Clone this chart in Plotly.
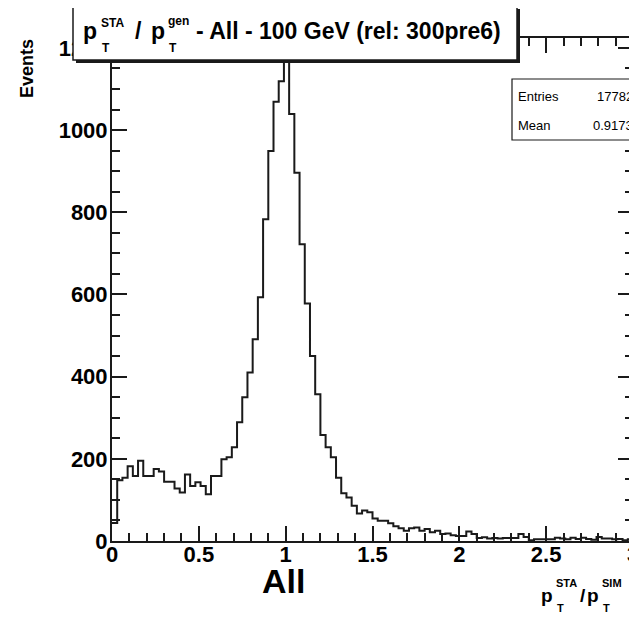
import plotly.graph_objects as go

# ---------------- data ----------------
bin_low = 0.0
bin_high = 3.0
counts = [44, 148, 154, 182, 158, 195, 158, 158, 175, 169,
          144, 144, 128, 118, 162, 134, 143, 134, 114, 158,
          158, 199, 204, 228, 289, 350, 410, 491, 593,
          783, 949, 1069, 1119, 1166, 1039, 896, 722, 578,
          450, 357, 258, 228, 204, 154, 116, 106, 86, 67,
          74, 70, 55, 49, 49, 43, 36,
          31, 25, 31, 33, 25, 29, 21, 25, 17, 18,
          14, 12, 12, 23, 17, 7, 9, 6, 7, 6,
          7, 7, 7, 17, 10, 2, 4, 4, 4, 4,
          8, 6, 4, 8, 5, 8, 5, 3, 10, 6,
          6, 4, 5, 2, 4]
x_tick_vals = [0, 0.5, 1, 1.5, 2, 2.5, 3]
x_tick_text = ["0", "0.5", "1", "1.5", "2", "2.5", "3"]
y_tick_vals = [0, 200, 400, 600, 800, 1000, 1200]
y_tick_text = ["0", "200", "400", "600", "800", "1000", "1200"]
y_max = 1224
stats_labels = ["Entries", "Mean"]
stats_values = ["17782", "0.9173"]
title_rest = "- All - 100 GeV (rel: 300pre6)"
panel_label = "All"
y_title = "Events"

# ---------------- geometry (screen pixels; page body has an 8px margin) ----------------
PAGE_OFF = 8
SW, SH = 637, 620
PL, PR, PT, PB = 112, 633, 38, 541   # plot area in screen pixels
W, H = SW - PAGE_OFF, SH - PAGE_OFF
L, T = PL - PAGE_OFF, PT - PAGE_OFF
R, B = SW - PR, SH - PB
pw, ph = PR - PL, PB - PT


def px(x):
    return (x - PL) / pw


def py(y):
    return (PB - y) / ph


n_bins = len(counts)
width = (bin_high - bin_low) / n_bins
edges = [bin_low + i * width for i in range(n_bins + 1)]
ys = counts + [counts[-1]]

INK = "#1a1a1a"
FONT = "Liberation Sans"

fig = go.Figure()
fig.add_trace(go.Scatter(x=edges, y=ys, mode="lines", line_shape="hv",
                         line=dict(color=INK, width=2), hoverinfo="skip",
                         showlegend=False))

axis_common = dict(showline=True, linecolor=INK, linewidth=2, mirror="ticks",
                   ticks="inside", tickcolor=INK, tickwidth=1.6, ticklen=15,
                   showgrid=False, zeroline=False, automargin=False,
                   ticklabeloverflow="allow",
                   tickfont=dict(family=FONT, size=22, color="black", weight="bold"))

fig.update_xaxes(range=[bin_low, bin_high], tickvals=x_tick_vals, ticktext=x_tick_text,
                 ticklabelstandoff=-7,
                 minor=dict(dtick=0.1, ticks="inside", ticklen=8, tickcolor=INK,
                            tickwidth=1.6, showgrid=False),
                 **axis_common)
fig.update_yaxes(range=[0, y_max], tickvals=y_tick_vals, ticktext=y_tick_text,
                 ticklabelstandoff=-2,
                 minor=dict(dtick=50, ticks="inside", ticklen=8, tickcolor=INK,
                            tickwidth=1.6, showgrid=False),
                 **axis_common)

shapes = []
# title box shadow + box
shapes.append(dict(type="rect", xref="paper", yref="paper",
                   x0=px(76), x1=px(520), y0=py(63), y1=py(9),
                   fillcolor=INK, line=dict(width=0), layer="above"))
shapes.append(dict(type="rect", xref="paper", yref="paper",
                   x0=px(73), x1=px(517), y0=py(60), y1=py(6),
                   fillcolor="white", line=dict(color=INK, width=1.5), layer="above"))
# stats box
shapes.append(dict(type="rect", xref="paper", yref="paper",
                   x0=px(512), x1=px(650), y0=py(140), y1=py(79),
                   fillcolor="white", line=dict(color=INK, width=1.2), layer="above"))
# neighbouring red box edge
shapes.append(dict(type="rect", xref="paper", yref="paper",
                   x0=px(635), x1=px(660), y0=py(385), y1=py(250),
                   fillcolor="rgba(0,0,0,0)", line=dict(color="#d04545", width=2),
                   layer="above"))

ann = []


def txt(s, x, y, size, xanchor="left", weight="bold", angle=0):
    ann.append(dict(text=s, xref="paper", yref="paper", x=px(x), y=py(y),
                    xanchor=xanchor, yanchor="middle", showarrow=False,
                    textangle=angle,
                    font=dict(family=FONT, size=size, color="black", weight=weight)))


# title pieces
txt("p", 81, 31, 23)
txt("STA", 99, 23, 12)
txt("T", 100, 48, 12)
txt("/", 133, 31, 23)
txt("p", 149, 31, 23)
txt("gen", 166, 21, 12)
txt("T", 167, 48, 12)
txt(title_rest, 194, 31, 23)

# stats text
for i, (lab, val) in enumerate(zip(stats_labels, stats_values)):
    yy = 96 + i * 29
    txt(lab, 516, yy, 13, weight="normal")
    txt(val, 635, yy, 13, xanchor="right", weight="normal")

# y title
txt(y_title, 27, 69, 18, xanchor="center", angle=-90)

# panel label
txt(panel_label, 283, 581, 34, xanchor="center")

# x title pieces
txt("p", 539, 595, 19)
txt("STA", 554, 583, 11)
txt("T", 555, 608, 11)
txt("/", 578, 595, 19)
txt("p", 585, 595, 19)
txt("SIM", 600, 583, 11)
txt("T", 601, 608, 11)

fig.update_layout(width=W, height=H, margin=dict(l=L, r=R, t=T, b=B, pad=0),
                  paper_bgcolor="white", plot_bgcolor="white",
                  shapes=shapes, annotations=ann, showlegend=False)

fig.write_html("out.html")
